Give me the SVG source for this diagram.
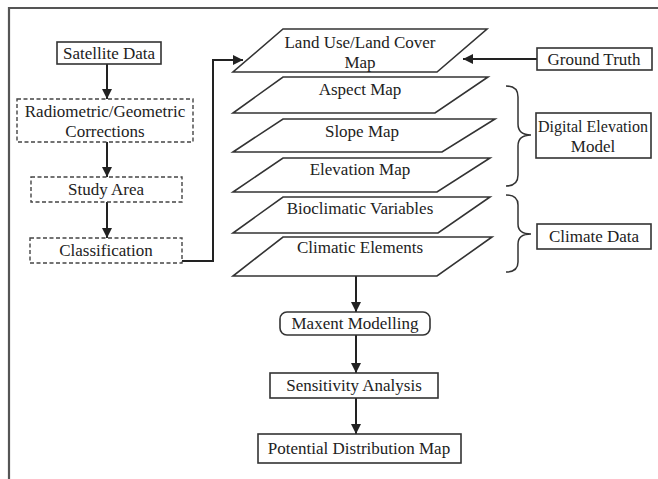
<svg xmlns="http://www.w3.org/2000/svg" width="658" height="479" viewBox="0 0 658 479">
<defs>
<marker id="ah" viewBox="0 0 10 10" refX="10" refY="5" markerWidth="10" markerHeight="10" markerUnits="userSpaceOnUse" orient="auto">
<path d="M0,0 L10,5 L0,10 Z" fill="#222"/>
</marker>
<style>
text{font-family:"Liberation Serif","Times New Roman",serif;font-size:17px;fill:#222;text-anchor:middle}
.box{fill:#fff;stroke:#333;stroke-width:1.6}
.dash{fill:#fff;stroke:#444;stroke-width:1.4;stroke-dasharray:4,2.5}
.layer{fill:#fff;stroke:#333;stroke-width:1.6;stroke-linejoin:miter}
.con{fill:none;stroke:#222;stroke-width:2}
.brace{fill:none;stroke:#333;stroke-width:1.5}
</style>
</defs>
<rect width="658" height="479" fill="#fff"/>
<path d="M9,479 L9,8 L658,8" fill="none" stroke="#555" stroke-width="2.2"/>

<g id="connectors">
<line class="con" x1="107" y1="64" x2="107" y2="99" marker-end="url(#ah)"/>
<line class="con" x1="107" y1="142" x2="107" y2="177" marker-end="url(#ah)"/>
<line class="con" x1="107" y1="202" x2="107" y2="238" marker-end="url(#ah)"/>
<polyline class="con" points="182,261 213,261 213,60 243,60" marker-end="url(#ah)"/>
<line class="con" x1="537" y1="59" x2="463" y2="59" marker-end="url(#ah)"/>
<line class="con" x1="356" y1="276" x2="356" y2="312" marker-end="url(#ah)"/>
<line class="con" x1="356" y1="335" x2="356" y2="373" marker-end="url(#ah)"/>
<line class="con" x1="356" y1="398" x2="356" y2="434" marker-end="url(#ah)"/>
<path class="brace" d="M506,86 Q518,86 518,97 L518,124 Q518,135 531,135 Q518,135 518,146 L518,175 Q518,186 506,186"/>
<path class="brace" d="M506,195 Q518,195 518,205 L518,224 Q518,234 531,234 Q518,234 518,244 L518,262 Q518,272 506,272"/>
</g>

<g id="satellite-data"><rect class="box" x="57" y="42" width="104" height="22"/><text x="109" y="59">Satellite Data</text></g>
<g id="corrections"><rect class="dash" x="17" y="99" width="176" height="43"/><text x="105" y="117">Radiometric/Geometric</text><text x="105" y="137">Corrections</text></g>
<g id="study-area"><rect class="dash" x="31" y="177" width="151" height="25"/><text x="106" y="195">Study Area</text></g>
<g id="classification"><rect class="dash" x="30" y="238" width="152" height="25"/><text x="106" y="256">Classification</text></g>

<g id="lulc"><polygon class="layer" points="283,29 487,29 437,72 233,72"/><text x="360" y="48">Land Use/Land Cover</text><text x="360" y="68">Map</text></g>
<g id="aspect"><polygon class="layer" points="283,77 488,77 435,113 233,113"/><text x="360" y="95">Aspect Map</text></g>
<g id="slope"><polygon class="layer" points="283,119 495,119 442,152 233,152"/><text x="362" y="137">Slope Map</text></g>
<g id="elevation"><polygon class="layer" points="283,158 490,158 437,192 233,192"/><text x="360" y="175">Elevation Map</text></g>
<g id="bioclimatic"><polygon class="layer" points="283,197 490,197 438,233 233,233"/><text x="360" y="214">Bioclimatic Variables</text></g>
<g id="climatic"><polygon class="layer" points="283,237 492,237 437,276 233,276"/><text x="360" y="253">Climatic Elements</text></g>

<g id="ground-truth"><rect class="box" x="537" y="48" width="115" height="22"/><text x="594" y="65">Ground Truth</text></g>
<g id="dem"><rect class="box" x="536" y="113" width="115" height="45"/><text x="593" y="132" textLength="110" lengthAdjust="spacingAndGlyphs">Digital Elevation</text><text x="593" y="152">Model</text></g>
<g id="climate-data"><rect class="box" x="537" y="224" width="114" height="25"/><text x="594" y="242">Climate Data</text></g>

<g id="maxent"><rect class="box" x="280" y="312" width="150" height="23" rx="7" ry="7"/><text x="355" y="329">Maxent Modelling</text></g>
<g id="sensitivity"><rect class="box" x="270" y="373" width="168" height="25"/><text x="354" y="391">Sensitivity Analysis</text></g>
<g id="potential"><rect class="box" x="258" y="434" width="203" height="29"/><text x="359" y="454">Potential Distribution Map</text></g>
</svg>
